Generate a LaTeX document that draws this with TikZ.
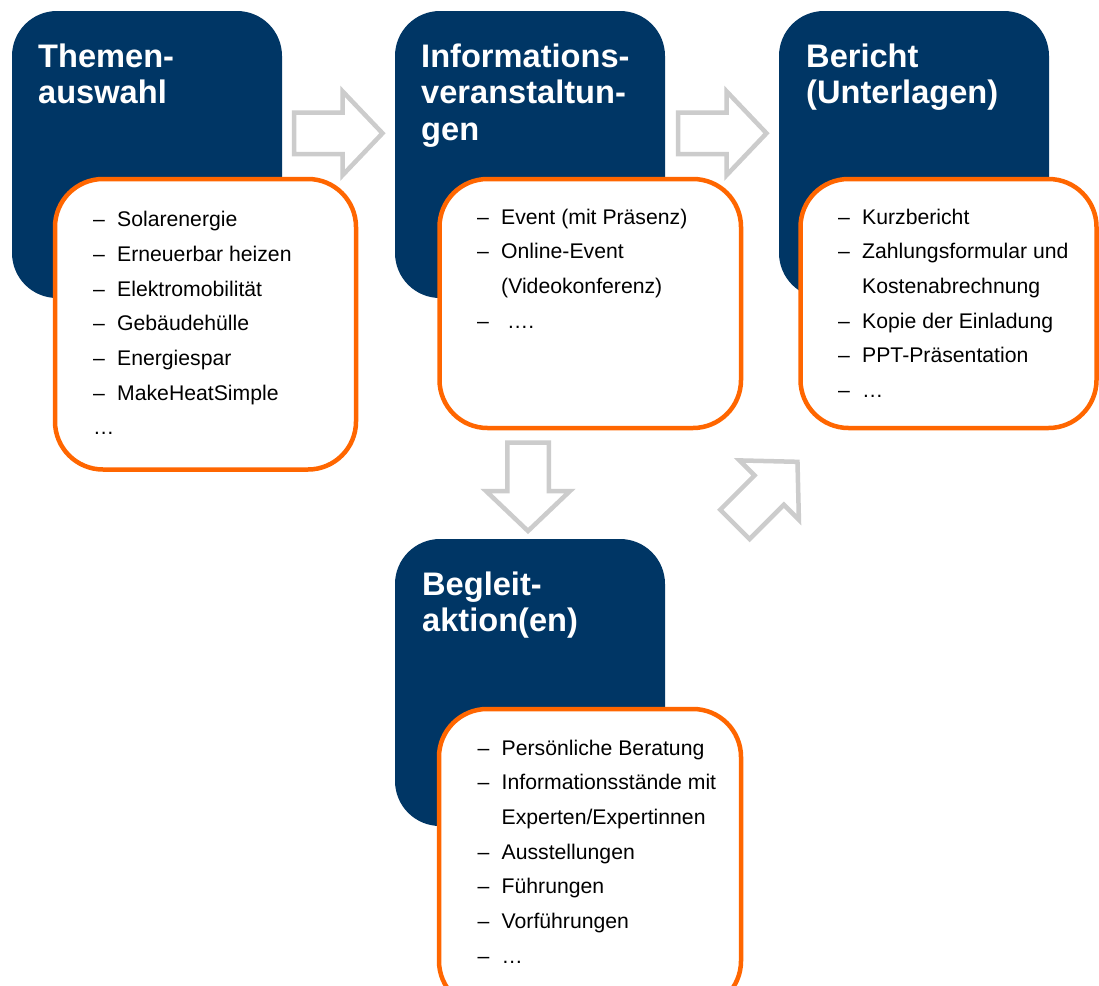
\documentclass[tikz,border=0pt]{standalone}
\usepackage{fontspec}
\setmainfont{Liberation Sans}
\usetikzlibrary{positioning}
\definecolor{darkblue}{RGB}{0,54,101}
\definecolor{orangeline}{RGB}{255,102,0}
\definecolor{arrowgray}{RGB}{204,204,204}
\tikzset{
  bluebox/.style={fill=darkblue, rounded corners=45pt, minimum width=270pt,
    minimum height=287pt, inner sep=0pt, outer sep=0pt},
  listbox/.style={draw=orangeline, line width=4.5pt, fill=white, rounded corners=48pt,
    inner sep=0pt, outer sep=0pt, anchor=north west},
  heading/.style={anchor=base west, inner sep=0pt, text=white,
    font=\fontsize{32.6}{36.5}\selectfont\bfseries},
  items/.style={anchor=base west, inner sep=0pt, font=\fontsize{21.2}{34.7}\selectfont},
  arrowline/.style={draw=arrowgray, fill=white, line width=4.5pt},
  blockarrow/.pic={\draw[arrowline] (0,-20.75) -- (48.5,-20.75) -- (48.5,-42) -- (88.5,0)
    -- (48.5,42) -- (48.5,20.75) -- (0,20.75) -- cycle;}
}

\begin{document}
\begin{tikzpicture}[x=1pt, y=-1pt, node distance=113pt]
\path[use as bounding box, fill=white] (0,0) rectangle (1099,985);
\clip (0,0) rectangle (1099,985);

% steps
\node[bluebox] (themen) at (147,154.5) {};
\node[bluebox, right=of themen] (info) {};
\node[bluebox, right=114pt of info] (bericht) {};
\node[bluebox, below=241pt of info] (begleit) {};

% arrows between the steps
\pic at ([shift={(12,-21.25)}]themen.east) {blockarrow};
\pic at ([shift={(13,-21.25)}]info.east) {blockarrow};

% lists
\node[listbox, minimum width=301pt, minimum height=290.5pt] (themenlist)
  at ([shift={(43,168)}]themen.north west) {};
\node[listbox, minimum width=301.5pt, minimum height=249pt] (infolist)
  at ([shift={(44.5,168)}]info.north west) {};
\node[listbox, minimum width=296pt, minimum height=249pt] (berichtlist)
  at ([shift={(21.5,168)}]bericht.north west) {};
\node[listbox, minimum width=302pt, minimum height=300pt] (begleitlist)
  at ([shift={(44,170)}]begleit.north west) {};

\pic[rotate=-90] at ([shift={(-62.25,14.5)}]infolist.south) {blockarrow};
\pic[rotate=45] at ([shift={(-65.6,96.4)}]berichtlist.south west) {blockarrow};

% titles
\node[heading] (thementitle) at ([shift={(26,56)}]themen.north west)
  {\begin{tabular}[t]{@{}l@{}}Themen-\\auswahl\end{tabular}};
\node[heading] (infotitle) at ([shift={(26,56)}]info.north west)
  {\begin{tabular}[t]{@{}l@{}}Informations-\\veranstaltun-\\gen\end{tabular}};
\node[heading] (berichttitle) at ([shift={(27,56)}]bericht.north west)
  {\begin{tabular}[t]{@{}l@{}}Bericht\\(Unterlagen)\end{tabular}};
\node[heading] (begleittitle) at ([shift={(27,56)}]begleit.north west)
  {\begin{tabular}[t]{@{}l@{}}Begleit-\\aktion(en)\end{tabular}};

% list texts
\node[items] (themenitems) at ([shift={(38,47.7)}]themenlist.north west)
  {\begin{tabular}[t]{@{}p{24pt}@{}l@{}}
   – & Solarenergie\\
   – & Erneuerbar heizen\\
   – & Elektromobilität\\
   – & Gebäudehülle\\
   – & Energiespar\\
   – & MakeHeatSimple\\
   … &
   \end{tabular}};
\node[items] (infoitems) at ([shift={(37.5,45)}]infolist.north west)
  {\begin{tabular}[t]{@{}p{24pt}@{}l@{}}
   – & Event (mit Präsenz)\\
   – & Online-Event\\
     & (Videokonferenz)\\
   – & \hspace{6pt}….
   \end{tabular}};
\node[items] (berichtitems) at ([shift={(37.5,45)}]berichtlist.north west)
  {\begin{tabular}[t]{@{}p{24pt}@{}l@{}}
   – & Kurzbericht\\
   – & Zahlungsformular und\\
     & Kostenabrechnung\\
   – & Kopie der Einladung\\
   – & PPT-Präsentation\\
   – & …
   \end{tabular}};
\node[items] (begleititems) at ([shift={(38.5,46)}]begleitlist.north west)
  {\begin{tabular}[t]{@{}p{24pt}@{}l@{}}
   – & Persönliche Beratung\\
   – & Informationsstände mit\\
     & Experten/Expertinnen\\
   – & Ausstellungen\\
   – & Führungen\\
   – & Vorführungen\\
   – & …
   \end{tabular}};
\end{tikzpicture}
\end{document}
